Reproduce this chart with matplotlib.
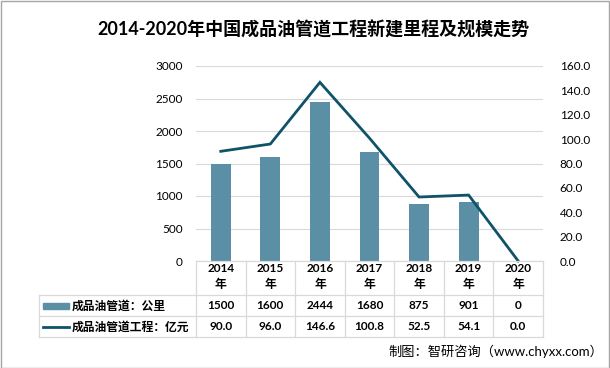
import matplotlib
matplotlib.use("Agg")
import matplotlib.pyplot as plt
import matplotlib.transforms as mtransforms
from matplotlib.patches import Rectangle
from matplotlib.lines import Line2D

plt.rcParams['font.family'] = ['Lato', 'Noto Sans CJK SC', 'DejaVu Sans']

years = ["2014", "2015", "2016", "2017", "2018", "2019", "2020"]
length_km = [1500, 1600, 2444, 1680, 875, 901, 0]
scale_yi = [90.0, 96.0, 146.6, 100.8, 52.5, 54.1, 0.0]
left_ticks = [0, 500, 1000, 1500, 2000, 2500, 3000]
right_ticks = [0, 20, 40, 60, 80, 100, 120, 140, 160]
bar_label = "成品油管道：公里"
line_label = "成品油管道工程：亿元"
title = "2014-2020年中国成品油管道工程新建里程及规模走势"
source = "制图：智研咨询（www.chyxx.com）"

W, H = 610, 368
BAR_C = "#5b8fa6"
LINE_C = "#0f5369"
GRID_C = "#d9d9d9"

fig = plt.figure(figsize=(W / 100, H / 100), dpi=100)

def fx(x):
    return x / W

def fy(y):
    return 1 - y / H

ax_l, ax_r, ax_t, ax_b = 196, 543, 66, 261
ax = fig.add_axes([fx(ax_l), fy(ax_b), fx(ax_r - ax_l), (ax_b - ax_t) / H])
ax2 = ax.twinx()

x = list(range(len(years)))
ax.bar(x, length_km, width=0.4, color=BAR_C, zorder=2)
ax2.plot(x, scale_yi, color=LINE_C, lw=2.0, zorder=3, clip_on=False, solid_joinstyle='miter')

ax.set_xlim(-0.5, len(years) - 0.5)
ax.set_ylim(0, 3000)
ax2.set_ylim(0, 160)
ax.set_yticks(left_ticks)
ax.set_yticklabels([str(v) for v in left_ticks])
ax2.set_yticks(right_ticks)
ax2.set_yticklabels([f"{v:.1f}" for v in right_ticks])
ax.set_xticks([])
for a in (ax, ax2):
    for s in a.spines.values():
        s.set_visible(False)
    a.tick_params(length=0, labelsize=8.5, colors="#000000")
ax.tick_params(axis='y', pad=9.5)
ax2.tick_params(axis='y', pad=12)
ax.grid(axis='y', color=GRID_C, lw=0.8, zorder=0)
ax.set_axisbelow(True)

# table
bt = mtransforms.blended_transform_factory(ax.transData, fig.transFigure)
ft = fig.transFigure
y_head, y_r1, y_r2, y_bot = 261, 295, 316, 337
tl = 39
n = len(years)

def hline(y, x0, x1):
    fig.add_artist(Line2D([fx(x0), fx(x1)], [fy(y), fy(y)], color=GRID_C, lw=0.9, transform=ft))

def vline_data(xd, y0, y1):
    fig.add_artist(Line2D([xd, xd], [fy(y0), fy(y1)], color=GRID_C, lw=0.9, transform=bt))

hline(y_head, ax_l, ax_r)
for yy in (y_r1, y_r2, y_bot):
    hline(yy, tl, ax_r)
fig.add_artist(Line2D([fx(tl), fx(tl)], [fy(y_r1), fy(y_bot)], color=GRID_C, lw=0.9, transform=ft))
for i in range(n + 1):
    vline_data(i - 0.5, y_head, y_bot)

for i, yr in enumerate(years):
    fig.text(i, fy(268), yr, transform=bt, ha='center', va='center', fontsize=8.5, fontweight='bold')
    fig.text(i, fy(284), "年", transform=bt, ha='center', va='center', fontsize=8.5, fontweight='bold')
    fig.text(i, fy(305.5), f"{length_km[i]}", transform=bt, ha='center', va='center', fontsize=8.5, fontweight='bold')
    fig.text(i, fy(327), f"{scale_yi[i]:.1f}", transform=bt, ha='center', va='center', fontsize=8.5, fontweight='bold')

fig.add_artist(Rectangle((fx(43), fy(308.5)), fx(69) - fx(43), 6 / H, color=BAR_C, transform=ft))
fig.add_artist(Line2D([fx(43), fx(69)], [fy(327), fy(327)], color=LINE_C, lw=2.0, transform=ft))
fig.text(fx(72), fy(305.5), bar_label, ha='left', va='center', fontsize=8.5, fontweight='bold')
fig.text(fx(72), fy(327), line_label, ha='left', va='center', fontsize=8.5, fontweight='bold')

fig.text(fx(313), fy(30), title, ha='center', va='center', fontsize=13, fontweight='bold')
fig.text(fx(603), fy(351), source, ha='right', va='center', fontsize=9.5)

fig.add_artist(Rectangle((0.5 / W, 0.5 / H), 1 - 1.5 / W, 1 - 1.5 / H, fill=False,
                         edgecolor="#a6a6a6", lw=1.0, transform=ft))

fig.savefig("out.png", dpi=100)
